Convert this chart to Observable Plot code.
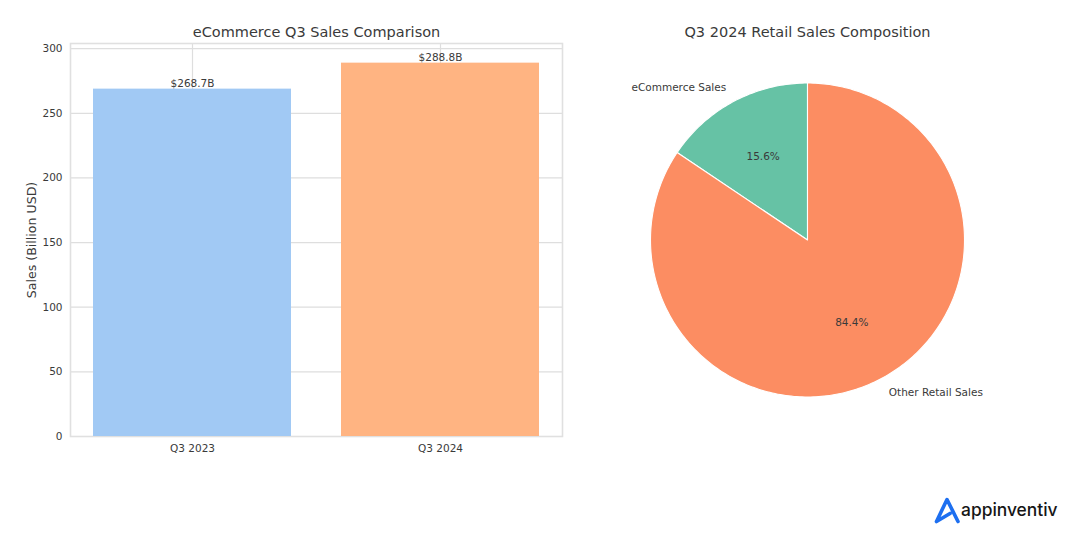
<!DOCTYPE html>
<html>
<head>
<meta charset="utf-8">
<script src="https://cdn.jsdelivr.net/npm/d3@7"></script>
<script src="https://cdn.jsdelivr.net/npm/@observablehq/plot@0.6"></script>
<style>
  html, body { margin: 0; padding: 0; background: #fff; }
  #stage { position: relative; width: 1080px; height: 553px; overflow: hidden; font-family: "DejaVu Sans", sans-serif; }
  #bars, #pie { position: absolute; top: 0; }
  #bars { left: 0; }
  #pie { left: 590px; }
  #logo { position: absolute; left: 930px; top: 492px; width: 140px; height: 36px; }
  #logo span { position: absolute; left: 31px; top: 5px; font: 500 17.4px/26px Inter, sans-serif; color: #161616; }
  #logo svg { position: absolute; left: 0; top: 0; }
</style>
</head>
<body>
<div id="stage">
  <div id="bars"></div>
  <div id="pie"></div>
  <div id="logo">
    <svg width="32" height="36" viewBox="0 0 32 36"><path d="M6.5 29.5 L17 7.5 L28 29.5 M6.5 29.5 L20 21.5" fill="none" stroke="#1d6ff0" stroke-width="3.6" stroke-linecap="round" stroke-linejoin="round"/></svg>
    <span>appinventiv</span>
  </div>
</div>
<script>
const quarters = ["Q3 2023", "Q3 2024"];
const salesBillions = [268.7, 288.8];
const barColors = ["#A1C9F4", "#FFB482"];
const yTicks = [0, 50, 100, 150, 200, 250, 300];

const shareLabels = ["eCommerce Sales", "Other Retail Sales"];
const shareValues = [15.6, 84.4];
const shareColors = ["#66C2A5", "#FC8D62"];

const barTitle = "eCommerce Q3 Sales Comparison";
const pieTitle = "Q3 2024 Retail Sales Composition";
const yLabel = "Sales (Billion USD)";

const ink = "#3a3a3a";
const barRows = quarters.map((q, i) => ({ q, v: salesBillions[i] }));

document.getElementById("bars").append(Plot.plot({
  width: 590, height: 553,
  marginLeft: 70, marginRight: 28, marginTop: 43, marginBottom: 117,
  style: { fontFamily: "DejaVu Sans, sans-serif", background: "transparent", overflow: "visible" },
  x: { domain: quarters, paddingInner: 0.2, paddingOuter: 0.09, label: null },
  y: { domain: [0, 304], label: null },
  color: { domain: quarters, range: barColors },
  marks: [
    Plot.gridY(yTicks, { stroke: "#dedede", strokeOpacity: 1, strokeWidth: 1.2 }),
    Plot.gridX(quarters, { stroke: "#dedede", strokeOpacity: 1, strokeWidth: 1.2 }),
    Plot.frame({ stroke: "#e0e0e0", strokeWidth: 1.6 }),
    Plot.barY(barRows, { x: "q", y: "v", fill: "q" }),
    Plot.text(barRows, { x: "q", y: "v", text: d => `$${d.v}B`, dy: -6, fill: ink, fontSize: 10.5 }),
    Plot.axisY({ ticks: yTicks, tickSize: 0, tickPadding: 8, label: null, fontSize: 10.5, color: ink }),
    Plot.axisX({ tickSize: 0, tickPadding: 8, label: null, fontSize: 10.5, color: ink }),
    Plot.text([barTitle], { frameAnchor: "top", textAnchor: "middle", dy: -17, fill: ink, fontSize: 14.5 }),
    Plot.text([yLabel], { frameAnchor: "left", textAnchor: "middle", dx: -39, rotate: -90, fill: ink, fontSize: 12.6 })
  ]
}));

// Pie wedges: start at the top, run counter-clockwise, like the source pie.
const total = d3.sum(shareValues);
const rad = deg => deg * Math.PI / 180;
let cursor = 90;
const wedgePoints = [], sliceLabels = [];
shareLabels.forEach((label, i) => {
  const sweep = shareValues[i] / total * 360;
  wedgePoints.push({ label, x: 0, y: 0 });
  const steps = Math.ceil(sweep);
  for (let k = 0; k <= steps; k++) {
    const a = rad(cursor + sweep * k / steps);
    wedgePoints.push({ label, x: Math.cos(a), y: Math.sin(a) });
  }
  wedgePoints.push({ label, x: 0, y: 0 });
  const mid = rad(cursor + sweep / 2);
  sliceLabels.push({ label, share: shareValues[i], cx: Math.cos(mid), cy: Math.sin(mid) });
  cursor += sweep;
});

document.getElementById("pie").append(Plot.plot({
  width: 490, height: 553,
  marginLeft: 60, marginRight: 116, marginTop: 82.5, marginBottom: 156.5,
  style: { fontFamily: "DejaVu Sans, sans-serif", background: "transparent", overflow: "visible" },
  x: { domain: [-1, 1], axis: null },
  y: { domain: [-1, 1], axis: null },
  color: { domain: shareLabels, range: shareColors },
  marks: [
    Plot.line(wedgePoints, { x: "x", y: "y", z: "label", fill: "label", stroke: "white", strokeWidth: 1.1, curve: "linear" }),
    Plot.text(sliceLabels, { x: d => d.cx * 0.6, y: d => d.cy * 0.6, text: d => `${d.share}%`, fill: ink, fontSize: 10.5 }),
    Plot.text(sliceLabels.filter(d => d.cx < 0), { x: d => d.cx * 1.1, y: d => d.cy * 1.1, text: "label", textAnchor: "end", fill: ink, fontSize: 10.5 }),
    Plot.text(sliceLabels.filter(d => d.cx >= 0), { x: d => d.cx * 1.1, y: d => d.cy * 1.1, text: "label", textAnchor: "start", fill: ink, fontSize: 10.5 }),
    Plot.text([pieTitle], { frameAnchor: "top", textAnchor: "middle", dy: -56.5, fill: ink, fontSize: 14.5 })
  ]
}));
</script>
</body>
</html>
